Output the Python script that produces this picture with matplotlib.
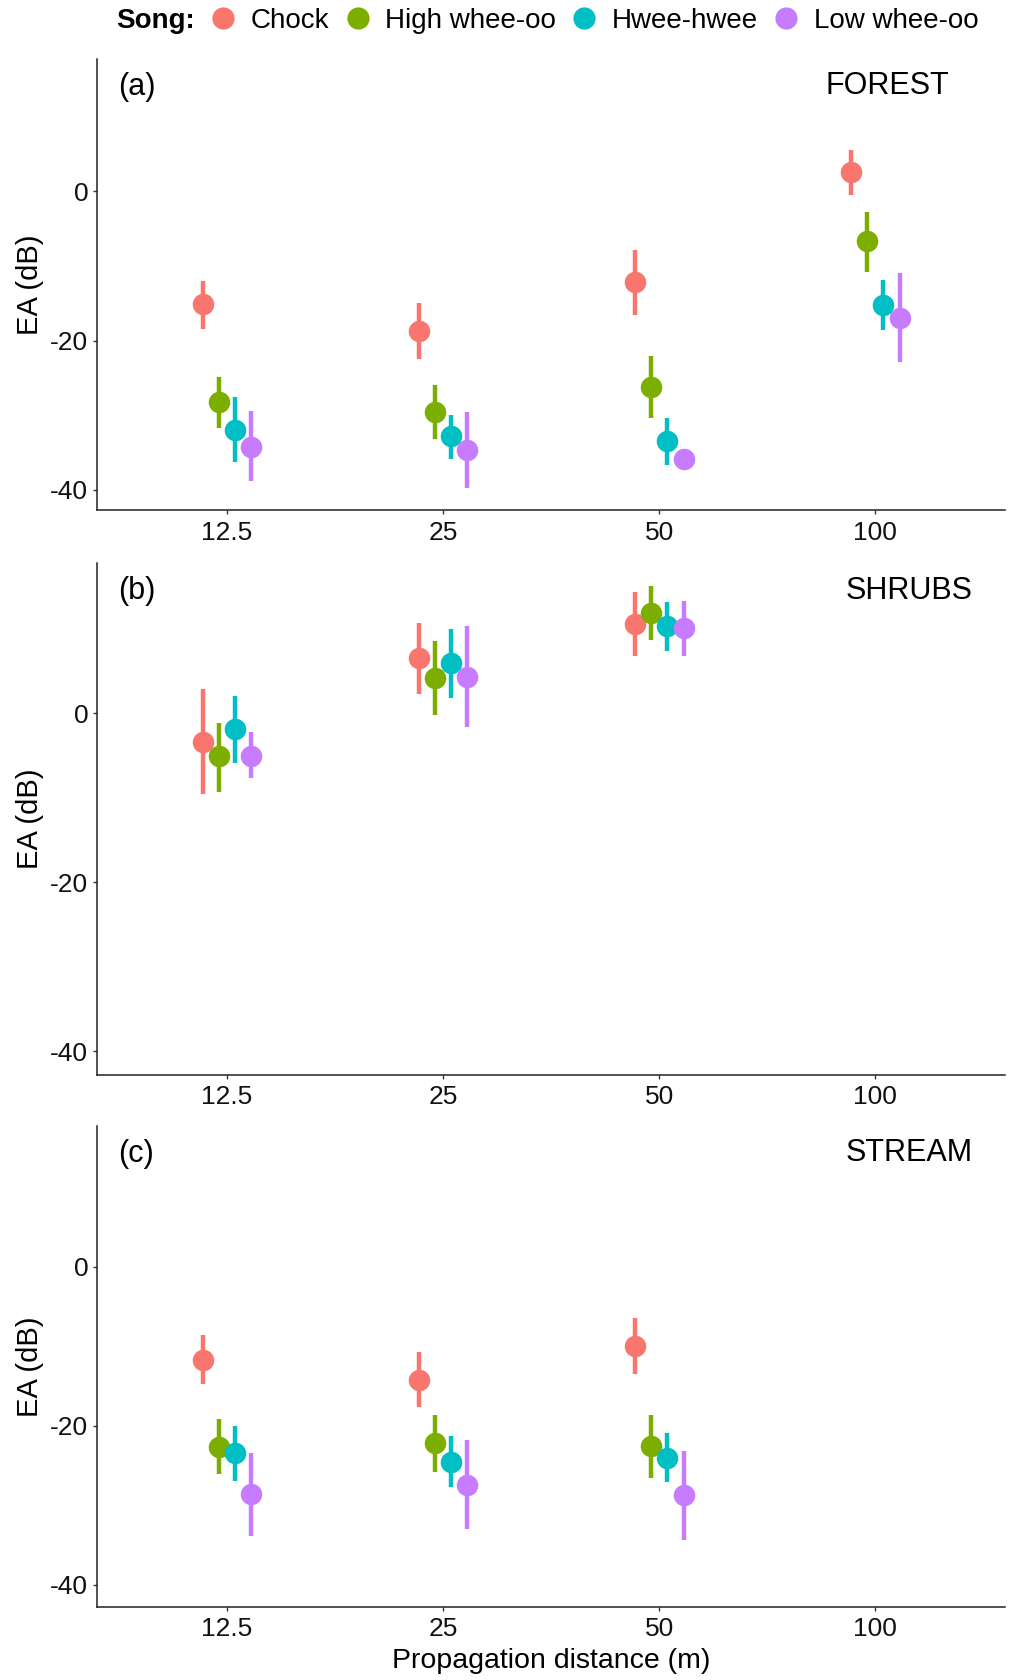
import numpy as np
import matplotlib
matplotlib.use("Agg")
import matplotlib.pyplot as plt
from matplotlib.lines import Line2D

plt.rcParams['font.family'] = ['Liberation Sans', 'DejaVu Sans']

# categories
distances = ['12.5', '25', '50', '100']
songs = ['Chock', 'High whee-oo', 'Hwee-hwee', 'Low whee-oo']
song_colors = ['#F8766D', '#7CAE00', '#00BFC4', '#C77CFF']
nan = np.nan

# panel a - FOREST (rows = songs, cols = distances)
forest_mean = [[-15.1, -18.75, -12.1, 2.6],
               [-28.2, -29.5, -26.2, -6.7],
               [-31.9, -32.8, -33.5, -15.15],
               [-34.2, -34.6, -35.8, -16.9]]
forest_lo = [[-18.4, -22.5, -16.5, -0.5],
             [-31.7, -33.2, -30.3, -10.8],
             [-36.3, -35.8, -36.7, -18.5],
             [-38.8, -39.8, -37.0, -22.9]]
forest_hi = [[-12.0, -14.9, -7.85, 5.6],
             [-24.8, -25.9, -22.1, -2.8],
             [-27.5, -29.9, -30.4, -11.9],
             [-29.4, -29.6, -34.6, -10.9]]

# panel b - SHRUBS
shrubs_mean = [[-3.4, 6.5, 10.6, nan],
               [-5.0, 4.2, 11.9, nan],
               [-1.9, 5.9, 10.3, nan],
               [-5.0, 4.3, 10.1, nan]]
shrubs_lo = [[-9.6, 2.3, 6.8, nan],
             [-9.3, -0.2, 8.7, nan],
             [-5.9, 1.8, 7.4, nan],
             [-7.7, -1.65, 6.8, nan]]
shrubs_hi = [[2.9, 10.7, 14.4, nan],
             [-1.1, 8.6, 15.0, nan],
             [2.0, 10.0, 13.2, nan],
             [-2.2, 10.3, 13.3, nan]]

# panel c - STREAM
stream_mean = [[-11.7, -14.2, -9.95, nan],
               [-22.65, -22.2, -22.5, nan],
               [-23.35, -24.5, -24.0, nan],
               [-28.6, -27.4, -28.7, nan]]
stream_lo = [[-14.7, -17.6, -13.5, nan],
             [-26.1, -25.8, -26.6, nan],
             [-26.9, -27.7, -27.1, nan],
             [-33.9, -33.0, -34.4, nan]]
stream_hi = [[-8.6, -10.7, -6.4, nan],
             [-19.1, -18.65, -18.6, nan],
             [-19.95, -21.25, -20.9, nan],
             [-23.35, -21.8, -23.1, nan]]

panels = [('(a)', 'FOREST', forest_mean, forest_lo, forest_hi),
          ('(b)', 'SHRUBS', shrubs_mean, shrubs_lo, shrubs_hi),
          ('(c)', 'STREAM', stream_mean, stream_lo, stream_hi)]

W, H = 1016, 1680
fig = plt.figure(figsize=(W / 100, H / 100), dpi=100)

# panel boxes in pixels: (top, bottom)
boxes = [(59, 510.5), (563.2, 1074.6), (1125.9, 1606.8)]
left_px, right_px = 97.3, 1005
name_x = [887, 909, 909]

dodge = np.array([-0.1125, -0.0375, 0.0375, 0.1125])
xpos = np.arange(len(distances))
axes = []
for k, (tag, name, mean, lo, hi) in enumerate(panels):
    top, bot = boxes[k]
    ax = fig.add_axes([left_px / W, 1 - bot / H, (right_px - left_px) / W, (bot - top) / H])
    axes.append(ax)
    for i in range(len(songs)):
        m = np.array(mean[i])
        l = np.array(lo[i])
        h = np.array(hi[i])
        ax.errorbar(xpos + dodge[i], m, yerr=[m - l, h - m], fmt='o',
                    color=song_colors[i], ms=15.5, elinewidth=3.2,
                    capsize=0, mew=0, zorder=3 + i)
    ax.set_xlim(-0.6, 3.6)
    ax.set_ylim(-42.75, 17.75)
    ax.set_xticks(xpos)
    ax.set_xticklabels(distances)
    ax.set_yticks([-40, -20, 0])
    ax.set_yticklabels(['-40', '-20', '0'])
    for s in ['top', 'right']:
        ax.spines[s].set_visible(False)
    for s in ['left', 'bottom']:
        ax.spines[s].set_linewidth(1.1)
        ax.spines[s].set_color('#222222')
    ax.tick_params(axis='both', labelsize=19, length=3, width=1, color='#333333',
                   labelcolor='#111111')
    ax.tick_params(axis='x', pad=4.5)
    ax.tick_params(axis='y', pad=3.5)
    ax.set_ylabel('EA (dB)', fontsize=21, va='center')
    ax.yaxis.set_label_coords((30 - left_px) / (right_px - left_px), 0.5)
    ph = bot - top
    ax.text((118 - left_px) / (right_px - left_px), 1 - 36 / ph, tag,
            transform=ax.transAxes, fontsize=22, ha='left', va='baseline')
    ax.text((name_x[k] - left_px) / (right_px - left_px), 1 - 35.5 / ph, name,
            transform=ax.transAxes, fontsize=22, ha='center', va='baseline')

ax = axes[-1]
ax.set_xlabel('Propagation distance (m)', fontsize=20.5, va='baseline')
ax.xaxis.set_label_coords(0.5, -(1668 - boxes[2][1]) / (boxes[2][1] - boxes[2][0]))

# legend on top
handles = [Line2D([], [], ls='', marker='o', ms=16, mew=0, color=c) for c in song_colors]
fs = 20
em = fs * 100 / 72
hl = 0.8
leg = fig.legend(handles, songs, ncol=4, frameon=False, fontsize=fs,
                 loc='center left', bbox_to_anchor=((223.3 - hl / 2 * em) / W, 1 - 21 / H),
                 handlelength=hl, handletextpad=0.59, columnspacing=0.62,
                 borderpad=0, borderaxespad=0)
fig.text(195 / W, 1 - 21 / H, 'Song:', fontsize=20, fontweight='bold',
         ha='right', va='center')

fig.savefig('out.png', dpi=100)
